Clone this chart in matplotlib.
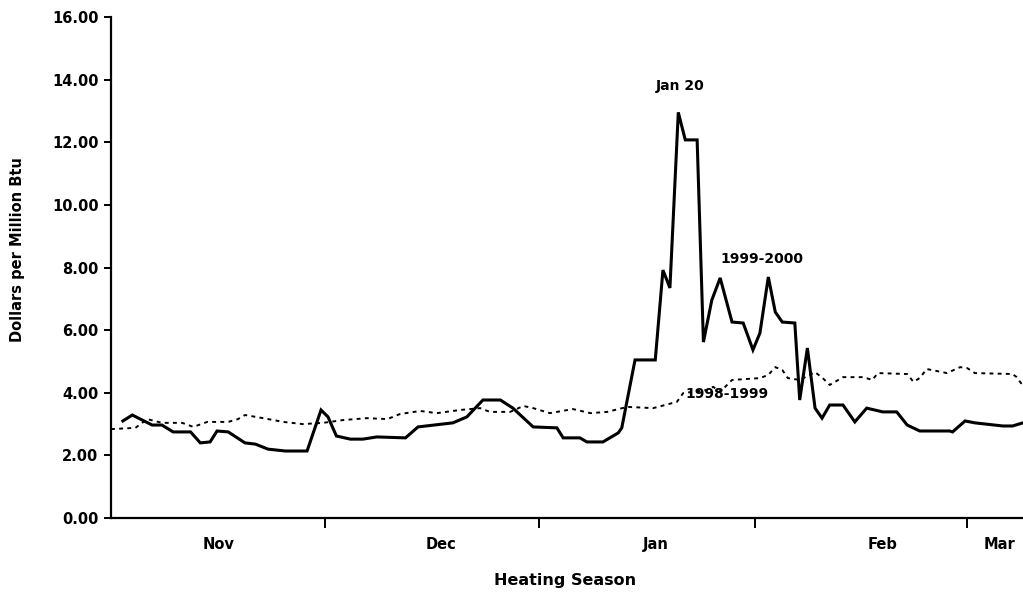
import matplotlib
matplotlib.use("Agg")
import matplotlib.pyplot as plt

# Season day index (0 ~ Nov 1) and prices, $/MMBtu
days_9900 = [0, 1.35, 4.2, 5.6, 7.2, 9.7, 11.1, 12.5, 13.5, 15.1, 17.5, 19.0, 20.8, 23.3,
             26.4, 28.4, 29.4, 30.6, 32.6, 34.4, 36.4, 40.5, 42.3, 47.3, 49.3, 51.6, 54.1,
             55.9, 58.8, 62.2, 63.1, 65.5, 66.5, 68.8, 71.0, 71.5, 73.4, 76.3, 77.4, 78.4,
             79.6, 80.6, 82.3, 83.2, 84.4, 85.6, 87.3, 88.9, 90.3, 91.3, 92.5, 93.5, 94.5,
             96.3, 97.0, 98.1, 99.2, 100.2, 101.3, 103.2, 104.9, 106.6, 108.9, 110.9, 112.4,
             114.2, 118.5, 118.9, 120.7, 122.1, 126.1, 127.5, 129.0]
price_9900 = [3.10, 3.29, 2.97, 2.97, 2.75, 2.75, 2.40, 2.43, 2.78, 2.75, 2.40, 2.36, 2.20, 2.14,
              2.14, 3.45, 3.23, 2.62, 2.52, 2.52, 2.59, 2.56, 2.91, 3.04, 3.23, 3.77, 3.77,
              3.51, 2.91, 2.88, 2.56, 2.56, 2.43, 2.43, 2.72, 2.88, 5.05, 5.05, 7.92, 7.35,
              12.96, 12.08, 12.08, 5.62, 6.96, 7.67, 6.26, 6.23, 5.37, 5.91, 7.70, 6.58, 6.26,
              6.23, 3.77, 5.43, 3.51, 3.19, 3.61, 3.61, 3.07, 3.51, 3.39, 3.39, 2.97,
              2.78, 2.78, 2.75, 3.10, 3.04, 2.94, 2.94, 3.04]

days_9899 = [-1.7, 1.8, 3.5, 5.6, 8.5, 10.1, 12.1, 15.1, 16.5, 17.5, 20.1, 23.0, 25.8, 28.7,
             31.6, 35.0, 37.9, 39.7, 42.6, 45.0, 48.3, 51.2, 52.6, 55.5, 57.4, 58.8, 61.2,
             64.5, 67.0, 69.4, 72.3, 76.0, 79.4, 80.3, 83.7, 84.6, 85.6, 87.3, 91.3, 92.5,
             93.5, 94.5, 95.3, 97.0, 99.2, 100.3, 101.3, 103.2, 106.1, 107.4, 108.2, 112.4,
             113.3, 114.2, 115.2, 118.1, 120.0, 121.0, 122.1, 127.5, 128.1, 129.0]
price_9899 = [2.84, 2.88, 3.16, 3.04, 3.04, 2.91, 3.07, 3.07, 3.16, 3.29, 3.19, 3.07, 3.00, 3.04,
              3.13, 3.19, 3.16, 3.32, 3.42, 3.35, 3.45, 3.51, 3.39, 3.39, 3.58, 3.51, 3.35,
              3.48, 3.35, 3.39, 3.55, 3.51, 3.71, 3.99, 4.09, 4.19, 4.03, 4.41, 4.47, 4.57,
              4.82, 4.73, 4.47, 4.41, 4.66, 4.47, 4.25, 4.50, 4.50, 4.41, 4.63, 4.60,
              4.35, 4.47, 4.76, 4.63, 4.82, 4.79, 4.63, 4.60, 4.50, 4.22]

month_bounds = [29.0, 59.7, 90.6, 121.0]
month_label_pos = [13.7, 45.6, 76.3, 108.9, 125.7]
month_labels = ["Nov", "Dec", "Jan", "Feb", "Mar"]
y_ticks = [0, 2, 4, 6, 8, 10, 12, 14, 16]

W, H = 1023, 594
fig = plt.figure(figsize=(W / 100, H / 100), dpi=100)
ax = fig.add_axes([111 / W, 1 - 518 / H, 1 - 111 / W, (518 - 17.2) / H])

ax.plot(days_9899, price_9899, color="black", lw=1.4, linestyle=(0, (2.0, 2.2)))
ax.plot(days_9900, price_9900, color="black", lw=2.2, solid_joinstyle="miter")

ax.set_xlim(-1.7, 129)
ax.set_ylim(0, 16)

for s in ["top", "right"]:
    ax.spines[s].set_visible(False)
for s in ["left", "bottom"]:
    ax.spines[s].set_linewidth(1.6)

tick_font = dict(family="DejaVu Sans", weight="bold", size=10.5)
ax.set_yticks(y_ticks)
ax.set_yticklabels(["%.2f" % v for v in y_ticks], fontdict=tick_font)
ax.tick_params(axis="y", direction="out", length=5, width=1.4, pad=4)

ax.set_xticks(month_bounds)
ax.set_xticklabels([])
ax.tick_params(axis="x", which="major", direction="out", length=7, width=1.4)
ax.set_xticks(month_label_pos, minor=True)
ax.set_xticklabels(month_labels, minor=True, fontdict=tick_font)
ax.tick_params(axis="x", which="minor", length=0, pad=14)

fig.text(18 / W, 1 - 250 / H, "Dollars per Million Btu", rotation=90,
         ha="center", va="center", family="DejaVu Sans", weight="bold", size=10.5)
fig.text(565 / W, 1 - 580 / H, "Heating Season", ha="center", va="center",
         family="DejaVu Sans", weight="bold", size=11.5)

ann_font = dict(family="DejaVu Sans", weight="bold", size=10)
ax.text(79.9, 13.8, "Jan 20", ha="center", va="center", fontdict=ann_font)
ax.text(91.6, 8.27, "1999-2000", ha="center", va="center", fontdict=ann_font)
ax.text(86.6, 3.96, "1998-1999", ha="center", va="center", fontdict=ann_font)

fig.savefig("out.png", dpi=100)
